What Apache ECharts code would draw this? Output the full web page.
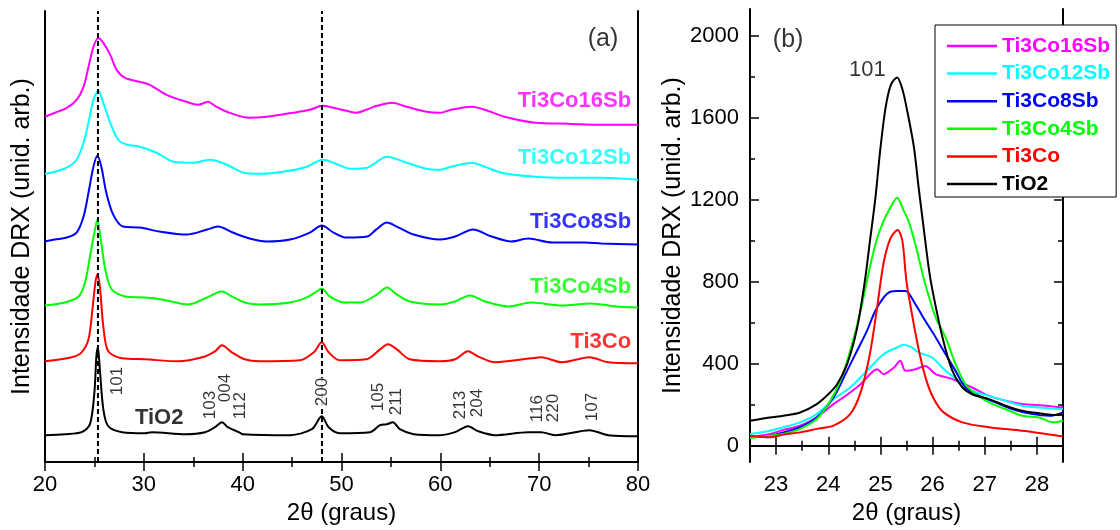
<!DOCTYPE html>
<html>
<head>
<meta charset="utf-8">
<script src="https://cdn.jsdelivr.net/npm/echarts@6/dist/echarts.min.js"></script>
<style>
  html, body { margin: 0; padding: 0; background: #fff; }
  #chart { width: 1120px; height: 530px; }
</style>
</head>
<body>
<div id="chart"></div>
<script>
// Sample names and colours
const sampleNames = ['Ti3Co16Sb', 'Ti3Co12Sb', 'Ti3Co8Sb', 'Ti3Co4Sb', 'Ti3Co', 'TiO2'];
const sampleColors = ['#ff00ff', '#00ffff', '#0000ff', '#00ff00', '#ff0000', '#000000'];

// (a) Full patterns, 2θ vs stacked intensity (arbitrary units, offset per sample)
const fullTi3Co16Sb = [[20,346],[21,350],[22.2,355],[23.2,363],[23.9,376],[24.4,396],[24.9,416],[25.4,425],[25.9,420],[26.6,408],[27.25,393],[28.1,385],[29.6,381],[30.6,378],[32.3,368],[34.3,361],[35.5,358],[36.5,361],[37.2,357],[38.4,351],[40.7,345],[42.4,346],[45.1,350],[46.8,353],[48.1,357],[49.2,355],[50.5,352],[51.5,350],[52.5,353],[53.6,357],[55.1,360],[56.6,356],[58.6,351],[60,350],[61.1,353],[63.2,356],[64.5,353],[66.5,346],[69.6,340],[72.9,339],[76.3,338],[80,338]];
const fullTi3Co12Sb = [[20,289],[21,291],[22.2,295],[23.2,303],[23.9,320],[24.4,340],[24.9,363],[25.4,372],[25.9,360],[26.6,340],[27.4,323],[28.3,318],[29.6,316],[31.3,310],[33,301],[35,300],[36.7,303],[38.4,298],[40.1,290],[41.8,289],[44.1,291],[46.5,296],[48.1,303],[49.2,300],[50.9,294],[52.6,295],[54.6,306],[56.6,300],[58.6,294],[60,293],[61.1,296],[63.2,300],[64.5,296],[66.2,290],[69.6,286],[72.9,285],[76.3,285],[80,283]];
const fullTi3Co8Sb = [[20,221],[21,223],[22.2,225],[23.2,230],[23.9,246],[24.4,270],[24.9,296],[25.3,307],[25.7,296],[26.2,270],[26.9,248],[27.9,236],[29.6,235],[31.6,231],[34.3,228],[36.4,233],[37.5,236],[39,230],[40.7,224],[42.4,221],[44.8,223],[46.8,230],[48,237],[49.2,230],[50.5,225],[52.6,226],[53.5,233],[54.6,240],[55.6,236],[57.3,228],[60,223],[61.5,226],[63.3,233],[65.2,226],[67.2,221],[68.9,224],[71.3,220],[74.6,220],[76.3,219],[80,218]];
const fullTi3Co4Sb = [[20,157],[22,160],[23.4,166],[24.05,180],[24.55,206],[25.0,230],[25.3,243],[25.6,226],[26.1,193],[26.75,173],[28.1,166],[30.1,165],[31.8,163],[34.5,158],[36.2,164],[37.9,171],[38.9,166],[40.2,160],[41.7,158],[44.8,160],[46.5,165],[47.5,171],[48.0,174],[48.8,166],[50.2,160],[51.9,160],[53.6,168],[54.6,175],[55.6,168],[56.9,161],[60,158],[61.5,161],[63,167],[64.5,161],[66.9,156],[69.2,160],[72.3,157],[75.3,159],[77.7,156],[80,155]];
const fullTi3Co = [[20,101],[22.7,105],[23.7,110],[24.4,123],[24.8,153],[25.1,180],[25.3,188],[25.55,176],[25.9,136],[26.4,111],[27.8,104],[30.1,103],[33.5,101],[35.9,105],[37.2,111],[37.9,117],[38.9,110],[40.2,103],[41.7,101],[45.8,102],[47.2,110],[48.0,120],[48.7,110],[49.8,102],[52.5,103],[53.9,113],[54.7,118],[55.6,113],[56.9,103],[60,101],[61.5,103],[62.8,111],[63.8,106],[65.5,100],[69.2,104],[70.2,105],[72.3,100],[75.1,105],[77,100],[80,99]];
const fullTiO2 = [[20,27],[22,28],[23.7,30],[24.55,38],[25.0,70],[25.2,106],[25.35,115],[25.55,93],[25.9,53],[26.4,36],[27.8,30],[30.1,29],[30.8,30],[34.2,28],[36.2,30],[37.2,35],[37.9,40],[38.5,35],[39.6,30],[40,28],[44.8,27],[47,33],[48,46],[48.7,35],[49.8,29],[52.9,30],[53.9,37],[54.6,38],[55.2,40],[55.9,33],[57.3,28],[60,27],[61.5,30],[62.8,36],[63.8,31],[65.5,27],[68.9,30],[70.2,30],[71.6,27],[75.1,32],[77,27],[80,26]];

// (b) Anatase (101) reflection, 2θ vs intensity
const peakTi3Co16Sb = [[22.5,41],[22.88,57],[23.14,77],[23.46,98],[23.78,138],[24.1,203],[24.29,235],[24.62,300],[24.94,373],[25.06,349],[25.26,381],[25.38,414],[25.48,365],[25.67,373],[25.86,389],[26.06,349],[26.38,325],[26.76,284],[27.08,243],[27.4,219],[27.72,203],[28.17,195],[28.5,186]];
const peakTi3Co12Sb = [[22.5,57],[22.88,73],[23.14,90],[23.46,114],[23.78,154],[24.1,227],[24.42,284],[24.74,365],[25.06,446],[25.32,479],[25.45,492],[25.6,480],[25.74,454],[25.99,430],[26.25,365],[26.51,316],[26.76,268],[27.08,243],[27.4,219],[27.72,195],[28.04,186],[28.5,178]];
const peakTi3Co8Sb = [[22.5,41],[22.88,49],[23.14,65],[23.46,90],[23.78,138],[24.1,235],[24.36,365],[24.55,462],[24.74,559],[24.9,657],[25.06,722],[25.19,751],[25.32,754],[25.48,754],[25.67,690],[25.86,609],[26.06,528],[26.25,446],[26.44,365],[26.63,284],[26.89,243],[27.21,211],[27.53,178],[27.92,154],[28.24,146],[28.5,162]];
const peakTi3Co4Sb = [[22.5,37],[22.88,49],[23.14,57],[23.46,82],[23.78,130],[24.04,219],[24.23,316],[24.42,462],[24.62,657],[24.81,884],[24.94,1014],[25.06,1095],[25.19,1160],[25.32,1209],[25.45,1144],[25.54,1095],[25.67,982],[25.86,787],[26.06,625],[26.25,528],[26.44,398],[26.63,300],[26.83,251],[27.08,211],[27.4,178],[27.72,146],[28.04,138],[28.3,114],[28.5,122]];
const peakTi3Co = [[22.5,49],[22.88,41],[23.14,54],[23.46,65],[23.78,82],[24.1,98],[24.42,154],[24.62,260],[24.8,450],[24.94,680],[25.06,890],[25.19,1010],[25.33,1052],[25.42,1000],[25.5,800],[25.62,620],[25.75,450],[25.88,320],[26.02,230],[26.2,165],[26.57,114],[27.08,90],[27.72,73],[28.17,57],[28.5,45]];
const peakTiO2 = [[22.5,122],[22.88,138],[23.14,146],[23.46,162],[23.78,203],[24.0,251],[24.17,300],[24.36,397],[24.55,570],[24.7,800],[24.8,1000],[24.9,1200],[25.0,1450],[25.1,1650],[25.2,1760],[25.32,1796],[25.42,1740],[25.51,1638],[25.64,1460],[25.73,1265],[25.83,1060],[25.93,860],[26.0,755],[26.19,528],[26.38,365],[26.57,284],[26.76,251],[27.08,227],[27.4,195],[27.72,170],[28.04,158],[28.3,150],[28.5,151]];

// Reference reflections marked with dashed lines in (a)
const referenceLines = [25.3, 48.05];

// Miller indices of the anatase reflections
const millerLabels = ['101', '103', '004', '112', '200', '105', '211', '213', '204', '116', '220', '107'];

// Axis ticks
const ticksBx = [23, 24, 25, 26, 27, 28];
const minorBx = [23.5, 24.5, 25.5, 26.5, 27.5];
const ticksBy = [0, 400, 800, 1200, 1600, 2000];
const minorBy = [200, 600, 1000, 1400, 1800];

const fullSets = [fullTi3Co16Sb, fullTi3Co12Sb, fullTi3Co8Sb, fullTi3Co4Sb, fullTi3Co, fullTiO2];
const peakSets = [peakTi3Co16Sb, peakTi3Co12Sb, peakTi3Co8Sb, peakTi3Co4Sb, peakTi3Co, peakTiO2];

const FONT = "'Liberation Sans', Arial, Helvetica, sans-serif";
const AXIS_LINE = { show: true, lineStyle: { color: '#000', width: 2 } };
const plainNumber = v => String(v);

// Where the annotation texts sit, in data coordinates of each panel
const sampleLabelPos = [[79.3, 362], [79.3, 305], [79.3, 241], [79.3, 176], [79.3, 120]];
const millerPos = [[27.29, 67], [36.7, 43], [38.21, 60], [39.73, 43], [48.03, 56], [53.69, 51], [55.52, 47], [61.99, 43], [63.71, 45], [69.78, 40], [71.4, 40], [75.35, 41]];

function xAxisA(position, showLabels) {
  return {
    type: 'value', gridIndex: 0, position: position,
    min: 20, max: 80, interval: 10,
    axisLine: AXIS_LINE,
    axisTick: { show: true, inside: true, length: 9, lineStyle: { color: '#000', width: 1.5 } },
    minorTick: { show: true, splitNumber: 2, length: 5, lineStyle: { color: '#000', width: 1.5 } },
    axisLabel: { show: showLabels, formatter: plainNumber, fontSize: 22, color: '#000', fontFamily: FONT, margin: 12 },
    splitLine: { show: false },
    name: showLabels ? '2\u03b8 (graus)' : '',
    nameLocation: 'middle', nameGap: 37,
    nameTextStyle: { fontSize: 24, color: '#000', fontFamily: FONT }
  };
}

function xAxisB(position, values, len, showLabels, withLine) {
  return {
    type: 'value', gridIndex: 1, position: position,
    min: 22.5, max: 28.5,
    axisLine: withLine ? AXIS_LINE : { show: false },
    axisTick: { show: true, inside: true, length: len, customValues: values, lineStyle: { color: '#000', width: 1.5 } },
    axisLabel: { show: showLabels, customValues: values, formatter: plainNumber, fontSize: 22, color: '#000', fontFamily: FONT, margin: 12 },
    splitLine: { show: false },
    name: showLabels ? '2\u03b8 (graus)' : '',
    nameLocation: 'middle', nameGap: 37,
    nameTextStyle: { fontSize: 24, color: '#000', fontFamily: FONT }
  };
}

function yAxisB(position, values, len, showLabels, withLine) {
  return {
    type: 'value', gridIndex: 1, position: position,
    min: -80, max: 2130,
    axisLine: withLine ? AXIS_LINE : { show: false },
    axisTick: { show: true, inside: true, length: len, customValues: values, lineStyle: { color: '#000', width: 1.5 } },
    axisLabel: { show: showLabels, customValues: values, formatter: plainNumber, fontSize: 22, color: '#000', fontFamily: FONT, margin: 11 },
    splitLine: { show: false },
    name: showLabels ? 'Intensidade DRX (unid. arb.)' : '',
    nameLocation: 'middle', nameGap: 64,
    nameTextStyle: { fontSize: 25, color: '#000', fontFamily: FONT }
  };
}

const series = [];

// Panel (a): stacked full patterns
sampleNames.forEach((name, i) => {
  const s = {
    name: name, type: 'line', xAxisIndex: 0, yAxisIndex: 0,
    data: fullSets[i], symbol: 'none', smooth: 0.3,
    lineStyle: { color: sampleColors[i], width: 2 },
    itemStyle: { color: sampleColors[i] },
    z: 3
  };
  if (i === 5) {
    s.markLine = {
      silent: true, symbol: 'none',
      label: { show: false },
      lineStyle: { color: '#000', width: 2, type: [5, 3] },
      data: referenceLines.map(v => ({ xAxis: v }))
    };
  }
  series.push(s);
});

// Panel (a): sample names, Miller indices, panel tag
const annotationsA = [];
sampleNames.slice(0, 5).forEach((name, i) => {
  annotationsA.push({
    value: sampleLabelPos[i],
    label: { show: true, formatter: name, position: 'inside', align: 'right', verticalAlign: 'middle',
             color: sampleColors[i], fontWeight: 'bold', fontSize: 22, fontFamily: FONT }
  });
});
annotationsA.push({
  value: [29.1, 44.5],
  label: { show: true, formatter: 'TiO2', position: 'inside', align: 'left', verticalAlign: 'middle',
           color: '#000', fontWeight: 'bold', fontSize: 22, fontFamily: FONT }
});
millerLabels.forEach((t, i) => {
  annotationsA.push({
    value: millerPos[i],
    label: { show: true, formatter: t, position: 'inside', rotate: 90, align: 'left', verticalAlign: 'middle',
             color: '#000', fontSize: 17, fontFamily: FONT,
             backgroundColor: t === '200' ? '#fff' : 'transparent', padding: [2, 0, 2, 0] }
  });
});
annotationsA.push({
  value: [76.46, 424],
  label: { show: true, formatter: '(a)', position: 'inside', align: 'center', verticalAlign: 'middle',
           color: '#000', fontSize: 25, fontFamily: FONT }
});
series.push({
  type: 'scatter', xAxisIndex: 0, yAxisIndex: 0, symbolSize: 0, silent: true,
  data: annotationsA, z: 5
});

// Panel (b): the (101) reflection
sampleNames.forEach((name, i) => {
  series.push({
    name: name, type: 'line', xAxisIndex: 2, yAxisIndex: 2,
    data: peakSets[i], symbol: 'none', smooth: 0.3,
    lineStyle: { color: sampleColors[i], width: 2 },
    itemStyle: { color: sampleColors[i] },
    z: 3
  });
});
series.push({
  type: 'scatter', xAxisIndex: 2, yAxisIndex: 2, symbolSize: 0, silent: true, z: 5,
  data: [
    { value: [23.23, 1979], label: { show: true, formatter: '(b)', position: 'inside', align: 'center', verticalAlign: 'middle', color: '#000', fontSize: 25, fontFamily: FONT } },
    { value: [24.75, 1833], label: { show: true, formatter: '101', position: 'inside', align: 'center', verticalAlign: 'middle', color: '#000', fontSize: 22, fontFamily: FONT } }
  ]
});

const option = {
  animation: false,
  backgroundColor: '#fff',
  textStyle: { fontFamily: FONT },
  grid: [
    { left: 45, top: 11, width: 593, height: 452 },
    { left: 750, top: 9, width: 313, height: 454 }
  ],
  xAxis: [
    xAxisA('bottom', true),
    xAxisA('top', false),
    xAxisB('bottom', ticksBx, 9, true, true),
    xAxisB('bottom', minorBx, 5, false, false),
    xAxisB('top', ticksBx, 9, false, true),
    xAxisB('top', minorBx, 5, false, false)
  ],
  yAxis: [
    {
      type: 'value', gridIndex: 0, position: 'left', min: 0, max: 452,
      axisLine: AXIS_LINE, axisTick: { show: false }, axisLabel: { show: false }, splitLine: { show: false },
      name: 'Intensidade DRX (unid. arb.)', nameLocation: 'middle', nameGap: 10,
      nameTextStyle: { fontSize: 25, color: '#000', fontFamily: FONT }
    },
    {
      type: 'value', gridIndex: 0, position: 'right', min: 0, max: 452,
      axisLine: AXIS_LINE, axisTick: { show: false }, axisLabel: { show: false }, splitLine: { show: false }
    },
    yAxisB('left', ticksBy, 9, true, true),
    yAxisB('left', minorBy, 5, false, false),
    yAxisB('right', ticksBy, 9, false, true),
    yAxisB('right', minorBy, 5, false, false)
  ],
  legend: {
    orient: 'vertical', left: 935, top: 25,
    selectedMode: false,
    backgroundColor: '#fff', borderColor: '#000', borderWidth: 1, borderRadius: 0,
    padding: [10, 6, 2, 12],
    icon: 'rect',
    itemWidth: 50, itemHeight: 2.5, itemGap: 5.6,
    textStyle: { fontSize: 21, fontWeight: 'bold', fontFamily: FONT, lineHeight: 22 },
    data: sampleNames.map((n, i) => ({ name: n, textStyle: { color: sampleColors[i] } }))
  },
  series: series
};

const chart = echarts.init(document.getElementById('chart'), null, { renderer: 'canvas' });
chart.setOption(option);
</script>
</body>
</html>
